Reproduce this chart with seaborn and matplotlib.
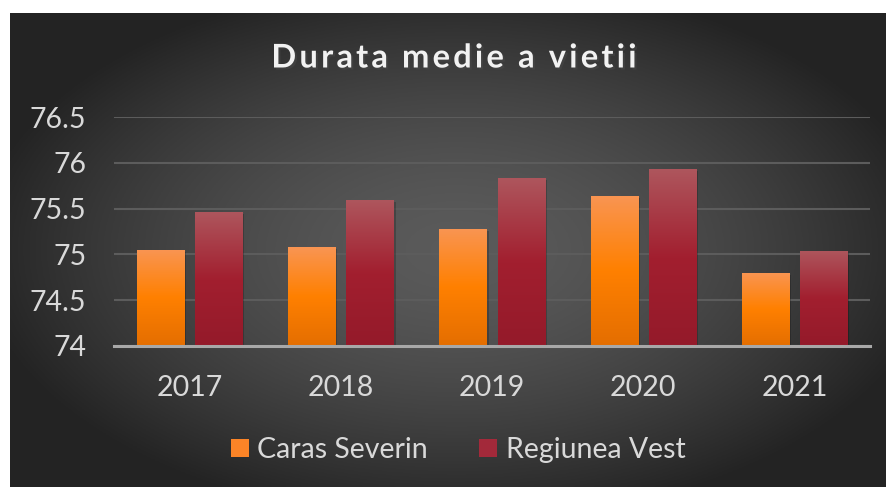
import numpy as np
import pandas as pd
import matplotlib.pyplot as plt
import matplotlib.patheffects as pe
from matplotlib.colors import LinearSegmentedColormap
from matplotlib.patches import Patch
import seaborn as sns

# data
years = ['2017', '2018', '2019', '2020', '2021']
caras_severin = [75.05, 75.08, 75.28, 75.64, 74.80]
regiunea_vest = [75.46, 75.59, 75.83, 75.93, 75.04]
series_names = ['Caras Severin', 'Regiunea Vest']
y_ticks = [74, 74.5, 75, 75.5, 76, 76.5]
y_labels = ['74', '74.5', '75', '75.5', '76', '76.5']
title = 'Durata medie a vietii'
base = 74

df = pd.DataFrame({
    'an': years * 2,
    'valoare': caras_severin + regiunea_vest,
    'serie': [series_names[0]] * 5 + [series_names[1]] * 5,
})

sns.set_style('white')
plt.rcParams['font.family'] = ['Lato', 'DejaVu Sans']

fig = plt.figure(figsize=(8.86, 4.87), dpi=100)
fig.patch.set_facecolor('white')

# dark radial background
bg = fig.add_axes([10 / 886, 0, 1 - 10 / 886, 1 - 13 / 487], zorder=-5)
gx, gy = np.meshgrid(np.linspace(-1, 1, 400), np.linspace(-1, 1, 220))
r = np.sqrt(((gx - 0.02) / 1.05) ** 2 + (gy / 1.1) ** 2)
shade = np.clip(0.355 - 0.2 * np.clip(r, 0, 1.4) ** 1.6, 0.14, 1)
bg.imshow(np.dstack([shade] * 3), aspect='auto', extent=[0, 1, 0, 1])
bg.set_axis_off()

ax = fig.add_axes([114 / 886, 1 - 346 / 487, (870 - 114) / 886, (346 - 117) / 487])
ax.set_facecolor('none')

sns.barplot(data=df, x='an', y='valoare', hue='serie', ax=ax,
            palette=['#F88A33', '#A42A38'], width=0.77, gap=0.19,
            legend=False, zorder=3)

cmaps = [
    LinearSegmentedColormap.from_list('or', ['#E46E00', '#FF8000', '#F99553']),
    LinearSegmentedColormap.from_list('rd', ['#941A2A', '#A21F2F', '#AE565D']),
]
grad = np.linspace(0, 1, 256).reshape(-1, 1)
for i, patch in enumerate(ax.patches):
    s = 0 if i < len(years) else 1
    top = patch.get_y() + patch.get_height()
    # bars rise from the axis baseline, as in the original
    patch.set_y(base)
    patch.set_height(top - base)
    x0, w = patch.get_x(), patch.get_width()
    patch.set_edgecolor('none')
    patch.set_path_effects([pe.SimplePatchShadow(offset=(1.5, -1.5), shadow_rgbFace='black', alpha=0.2),
                            pe.Normal()])
    img = ax.imshow(grad, cmap=cmaps[s], origin='lower', aspect='auto',
                    extent=[x0, x0 + w, base, top], zorder=4, interpolation='bicubic')
    img.set_clip_path(patch)
ax.set_xlim(-0.5, 4.5)
ax.set_ylim(74, 76.5)

ax.set_yticks(y_ticks)
ax.set_yticklabels(y_labels)
ax.grid(axis='y', color='#5C5C5C', linewidth=1.5, zorder=0)
ax.set_axisbelow(True)
for sp in ['left', 'right', 'top']:
    ax.spines[sp].set_visible(False)
ax.spines['bottom'].set_color('#A8A8A8')
ax.spines['bottom'].set_linewidth(2.2)
ax.spines['bottom'].set_zorder(6)
ax.tick_params(axis='both', length=0, colors='#D9D9D9', labelsize=20.5)
ax.tick_params(axis='y', pad=20)
ax.tick_params(axis='x', pad=21)
ax.set_xlabel('')
ax.set_ylabel('')

# letter-spaced title, drawn char by char
renderer = fig.canvas.get_renderer()
tkw = dict(fontsize=23.5, fontweight='bold', color='#F2F2F2', va='center', ha='left',
           path_effects=[pe.withSimplePatchShadow(offset=(1.5, -1.5), alpha=0.5)])
spacing = 3.2
probe = fig.text(0, 0, title, **tkw)
full_w = probe.get_window_extent(renderer).width + spacing * (len(title) - 1)
probe.remove()
x_start = 454 - full_w / 2
for k, ch in enumerate(title):
    if k == 0:
        adv = 0
    else:
        p = fig.text(0, 0, title[:k] + 'x', **tkw)
        q = fig.text(0, 0, 'x', **tkw)
        adv = p.get_window_extent(renderer).width - q.get_window_extent(renderer).width
        p.remove()
        q.remove()
    fig.text((x_start + adv + spacing * k) / 886, 1 - 58 / 487, ch, **tkw)

handles = [Patch(facecolor='#FB8427', edgecolor='none'),
           Patch(facecolor='#A3293A', edgecolor='none')]
leg = fig.legend(handles, series_names, loc='center', bbox_to_anchor=(458 / 886, 1 - 450 / 487),
                 ncol=2, frameon=False, fontsize=20.5, labelcolor='#D9D9D9',
                 handlelength=0.63, handleheight=0.63, handletextpad=0.3, columnspacing=1.8)

fig.savefig('out.png', dpi=100)
